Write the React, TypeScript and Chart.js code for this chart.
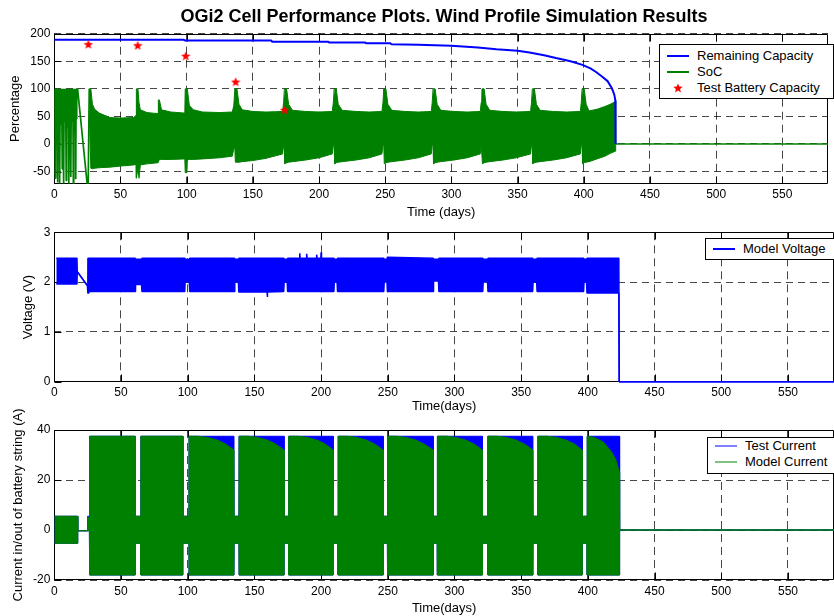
import React, { useEffect, useRef } from "react";
import { Chart, registerables } from "chart.js";

Chart.register(...registerables);

const FONT = "'Liberation Sans', Arial, Helvetica, sans-serif";
Chart.defaults.font.family = FONT;

// ---------------- data ----------------
const xTicks = [0, 50, 100, 150, 200, 250, 300, 350, 400, 450, 500, 550];
const X_MAX = 584.5;

// Panel 1
const yTicks1 = [-50, 0, 50, 100, 150, 200];
const capTime = [0, 98, 98.5, 164, 164.5, 207, 207.5, 235, 235.5, 254, 254.5, 275, 300, 320, 334, 350, 359, 370, 379, 390, 399, 405, 409, 414, 418, 421, 423, 423.8, 424];
const capValue = [189, 189, 187.5, 187.5, 185.5, 185.5, 184, 184, 182.5, 182.5, 181, 180, 178, 175, 172, 169, 166, 161, 156, 150, 143.5, 137, 131, 122, 114, 102, 90, 80, 0];

const starTime = [25.7, 63, 99.3, 137, 174];
const starValue = [181, 179, 160, 113, 62];

const socLineTime = [0.3, 0.6, 0.9, 1.2, 1.5, 1.8, 2.1, 2.4, 2.7, 3.0, 3.3, 3.6, 3.9, 4.2, 4.5, 4.8, 5.1, 5.4, 5.7, 6.0, 6.3, 6.6, 6.9, 7.2, 7.5, 7.8, 8.1, 8.4, 8.7, 9.0, 9.3, 9.6, 9.9, 10.2, 10.5, 10.8, 11.1, 11.4, 11.7, 12.0, 12.3, 12.6, 12.9, 13.2, 13.5, 13.8, 14.1, 14.4, 14.7, 15.0, 15.3, 15.6, 15.9, 16.2, 16.5, 16.8, 17.1, 17.6, 24.8, 25.6, 26.4];
const socLineValue = [100, -62, 100, 45, 100, 30, 100, -70, 100, 50, 100, 20, 100, -72, 100, 55, 100, 35, 100, -45, 100, 50, 100, -72, 100, 40, 100, 55, 100, -66, 100, 30, 100, 50, 100, -72, 100, 45, 100, 25, 100, -60, 100, 50, 100, 40, 100, -72, 100, 55, 100, 20, 100, -64, 100, 45, 100, 100, -72, -72, 100];

const socTime = [26.4, 27.6, 28.8, 30.5, 34, 42, 50, 60, 61.8, 62.0, 63.2, 64.0, 65.0, 70, 78.4, 78.6, 79.4, 81, 88, 98.6, 98.9, 100.2, 100.5, 102, 105, 112, 125, 134.5, 135.6, 136.4, 136.8, 138, 139.5, 142, 150, 160, 172.5, 173.2, 173.8, 174.2, 175.5, 177, 180, 190, 200, 210, 210.8, 211.4, 211.8, 213, 214.5, 217.5, 228, 238, 247.5, 248.3, 248.9, 249.3, 250.5, 252, 255, 265, 275, 284.8, 285.5, 286.1, 286.5, 287.7, 289.2, 292, 302, 312, 321.8, 322.5, 323.1, 323.5, 324.7, 326.2, 329, 339, 349, 359.8, 360.5, 361.1, 361.5, 362.7, 364.2, 367, 377, 387, 397.4, 398.1, 398.7, 399.1, 400.3, 401.8, 404, 410, 416, 420, 423.9, 424.1, 584.5];
const socUpper = [100, 100, 72, 63, 56, 48, 47, 48, 52, 100, 100, 75, 62, 57, 55, 80, 80, 62, 58, 56, 100, 100, 100, 70, 62, 58, 57, 58, 70, 100, 100, 100, 72, 62, 59, 58, 59, 75, 100, 100, 100, 72, 61, 59, 58, 59, 75, 100, 100, 100, 72, 61, 59, 58, 59, 75, 100, 100, 100, 72, 61, 59, 58, 59, 75, 100, 100, 100, 72, 61, 59, 58, 59, 75, 100, 100, 100, 72, 61, 59, 58, 59, 75, 100, 100, 100, 72, 61, 59, 58, 59, 75, 100, 100, 100, 72, 60, 63, 68, 72, 77, 0, 0];
const socLower = [60, -44, -45, -44, -43, -42, -40, -38, -37, -62, -45, -62, -38, -36, -34, -34, -28, -28, -28, -27, -52, -52, -29, -28, -28, -27, -25, -22, -8, -8, -33, -33, -33, -32, -30, -26, -18, -3, -3, -36, -34, -33, -32, -29, -25, -18, -2, -2, -36, -34, -33, -32, -29, -25, -18, -2, -2, -36, -34, -33, -32, -29, -25, -18, -2, -2, -36, -34, -33, -32, -29, -25, -18, -2, -2, -36, -34, -33, -32, -29, -25, -18, -2, -2, -36, -34, -33, -32, -29, -25, -18, -2, -2, -36, -34, -33, -32, -27, -22, -17, -13, 0, 0];

// Panel 2
const yTicks2 = [0, 1, 2, 3];
const voltTime = [1.5, 17.0, 17.2, 24.8, 25.2, 26.5, 60.6, 60.9, 65.4, 65.7, 97.8, 98.1, 101.2, 101.5, 135.0, 135.3, 138.0, 138.3, 159.5, 159.7, 159.9, 172.0, 172.3, 174.6, 174.9, 183.8, 184.0, 184.3, 189.0, 189.2, 189.5, 196.5, 196.7, 197.0, 199.8, 200.0, 200.3, 209.6, 209.9, 212.0, 212.3, 247.0, 247.3, 249.4, 249.7, 284.0, 284.3, 288.0, 288.3, 321.2, 321.5, 324.8, 325.1, 358.6, 358.9, 361.6, 361.9, 396.8, 397.1, 399.0, 399.3, 423.2, 423.5, 584.5];
const voltUpper = [2.48, 2.48, 2.21, 1.93, 2.48, 2.48, 2.48, 2.46, 2.46, 2.48, 2.48, 2.46, 2.46, 2.48, 2.48, 2.46, 2.46, 2.48, 2.48, 2.48, 2.48, 2.48, 2.46, 2.46, 2.48, 2.48, 2.58, 2.48, 2.48, 2.57, 2.48, 2.48, 2.55, 2.48, 2.48, 2.6, 2.48, 2.48, 2.46, 2.46, 2.48, 2.48, 2.46, 2.46, 2.5, 2.48, 2.46, 2.46, 2.48, 2.48, 2.46, 2.46, 2.48, 2.48, 2.46, 2.46, 2.48, 2.48, 2.46, 2.46, 2.48, 2.48, 0, 0];
const voltLower = [1.96, 1.96, 2.21, 1.93, 1.77, 1.81, 1.81, 1.95, 1.95, 1.81, 1.81, 2.0, 2.0, 1.81, 1.81, 2.0, 2.0, 1.8, 1.8, 1.7, 1.8, 1.81, 2.0, 2.0, 1.81, 1.81, 1.81, 1.81, 1.81, 1.81, 1.81, 1.81, 1.81, 1.81, 1.81, 1.81, 1.81, 1.81, 2.0, 2.0, 1.81, 1.81, 2.0, 2.0, 1.81, 1.81, 2.02, 2.02, 1.81, 1.81, 2.0, 2.0, 1.81, 1.81, 2.0, 2.0, 1.81, 1.81, 2.0, 2.0, 1.78, 1.78, 0, 0];

// Panel 3
const yTicks3 = [-20, 0, 20, 40];
const testTime = [0, 17.5, 17.6, 24.6, 25.0, 26.3, 26.5, 60.6, 60.7, 64.8, 64.9, 96.3, 96.4, 100.9, 101.0, 134.7, 134.8, 138.4, 138.5, 172.2, 172.3, 175.6, 175.7, 209.0, 209.1, 212.7, 212.8, 246.5, 246.6, 249.7, 249.8, 284.0, 284.1, 287.1, 287.2, 320.9, 321.0, 324.9, 325.0, 358.8, 358.9, 362.4, 362.5, 395.7, 395.8, 399.4, 399.5, 423.7, 423.8, 584.5];
const testUpper = [5.5, 5.5, -0.3, -0.3, 5.5, 5.5, 37.5, 37.5, 5.5, 5.5, 37.5, 37.5, 5.5, 5.5, 37.5, 37.5, 5.5, 5.5, 37.5, 37.5, 5.5, 5.5, 37.5, 37.5, 5.5, 5.5, 37.5, 37.5, 5.5, 5.5, 37.5, 37.5, 5.5, 5.5, 37.5, 37.5, 5.5, 5.5, 37.5, 37.5, 5.5, 5.5, 37.5, 37.5, 5.5, 5.5, 37.5, 37.5, 0, 0];
const testLower = [-5.3, -5.3, -0.3, -0.3, -0.3, -0.3, -18, -18, -5.3, -5.3, -18, -18, -5.3, -5.3, -18, -18, -5.3, -5.3, -18, -18, -5.3, -5.3, -18, -18, -5.3, -5.3, -18, -18, -5.3, -5.3, -18, -18, -5.3, -5.3, -18, -18, -5.3, -5.3, -18, -18, -5.3, -5.3, -18, -18, -5.3, -5.3, -18, -18, 0, 0];

const modelTime = [0, 17.5, 17.6, 24.6, 25.0, 26.3, 26.5, 60.6, 60.7, 64.8, 64.9, 96.3, 96.4, 100.9,
  101.0, 108, 115, 122, 128, 134.7, 134.8, 138.4,
  138.5, 145.5, 152.5, 159.5, 165.5, 172.2, 172.3, 175.6,
  175.7, 182.7, 189.7, 196.7, 202.7, 209.0, 209.1, 212.7,
  212.8, 219.8, 226.8, 233.8, 239.8, 246.5, 246.6, 249.7,
  249.8, 256.8, 263.8, 270.8, 276.8, 284.0, 284.1, 287.1,
  287.2, 294.2, 301.2, 308.2, 314.2, 320.9, 321.0, 324.9,
  325.0, 332, 339, 346, 352, 358.8, 358.9, 362.4,
  362.5, 369.5, 376.5, 383.5, 389.5, 395.7, 395.8, 399.4,
  399.5, 405, 412, 418, 421, 423.7, 423.8, 584.5];
const modelUpper = [5.5, 5.5, -0.3, -0.3, 5.0, 5.0, 37.5, 37.5, 5.5, 5.5, 37.5, 37.5, 5.5, 5.5,
  37.5, 37.5, 37, 36, 34.5, 32, 5.5, 5.5,
  37.5, 37.5, 37, 36, 34.5, 32, 5.5, 5.5,
  37.5, 37.5, 37, 36, 34.5, 32, 5.5, 5.5,
  37.5, 37.5, 37, 36, 34.5, 32, 5.5, 5.5,
  37.5, 37.5, 37, 36, 34.5, 32, 5.5, 5.5,
  37.5, 37.5, 37, 36, 34.5, 32, 5.5, 5.5,
  37.5, 37.5, 37, 36, 34.5, 32, 5.5, 5.5,
  37.5, 37.5, 37, 36, 34.5, 32, 5.5, 5.5,
  37.5, 37, 35, 31, 28, 23, 0, 0];
const modelLower = [-5.3, -5.3, -0.3, -0.3, -0.3, -0.3, -18, -18, -5.3, -5.3, -18, -18, -5.3, -5.3,
  -18, -18, -18, -18, -18, -18, -5.3, -5.3,
  -18, -18, -18, -18, -18, -18, -5.3, -5.3,
  -18, -18, -18, -18, -18, -18, -5.3, -5.3,
  -18, -18, -18, -18, -18, -18, -5.3, -5.3,
  -18, -18, -18, -18, -18, -18, -5.3, -5.3,
  -18, -18, -18, -18, -18, -18, -5.3, -5.3,
  -18, -18, -18, -18, -18, -18, -5.3, -5.3,
  -18, -18, -18, -18, -18, -18, -5.3, -5.3,
  -18, -18, -18, -18, -18, -18, 0, 0];

// ---------------- helpers ----------------
const BLUE = "#0000ff";
const GREEN = "#008000";

function pts(t: number[], v: number[]) {
  return t.map((x, i) => ({ x, y: v[i] }));
}

function makeStar(size: number, color: string) {
  const c = document.createElement("canvas");
  c.width = size;
  c.height = size;
  const g = c.getContext("2d")!;
  g.fillStyle = color;
  g.beginPath();
  for (let i = 0; i < 10; i++) {
    const r = i % 2 === 0 ? size / 2 : size / 4.6;
    const a = -Math.PI / 2 + (i * Math.PI) / 5;
    g.lineTo(size / 2 + r * Math.cos(a), size / 2 + 0.5 + r * Math.sin(a));
  }
  g.closePath();
  g.fill();
  return c;
}

const framePlugin = {
  id: "frame",
  beforeDatasetsDraw(chart: any) {
    const { ctx, chartArea: a, scales } = chart;
    ctx.save();
    ctx.strokeStyle = "#000";
    ctx.lineWidth = 1;
    const l = Math.round(a.left) + 0.5;
    const t = Math.round(a.top) + 0.5;
    const r = Math.round(a.right) - 0.5;
    const b = Math.round(a.bottom) - 0.5;
    ctx.beginPath();
    ctx.moveTo(l, t);
    ctx.lineTo(r, t);
    ctx.lineTo(r, b);
    ctx.lineTo(l, b);
    ctx.closePath();
    const tl = 7;
    scales.x.ticks.forEach((tk: any) => {
      const px = Math.round(scales.x.getPixelForValue(tk.value)) + 0.5;
      ctx.moveTo(px, b);
      ctx.lineTo(px, b - tl);
      ctx.moveTo(px, t);
      ctx.lineTo(px, t + tl);
    });
    scales.y.ticks.forEach((tk: any) => {
      const py = Math.round(scales.y.getPixelForValue(tk.value)) + 0.5;
      ctx.moveTo(l, py);
      ctx.lineTo(l + tl, py);
    });
    ctx.stroke();
    ctx.restore();
  },
};

type PanelCfg = {
  top: number;
  bottom: number;
  xAxisH: number;
  yMin: number;
  yMax: number;
  yTicks: number[];
  yTitle: string;
  yTitlePad: number;
  xTitle: string;
};

function panelOptions(c: PanelCfg): any {
  const grid = { color: "rgba(0,0,0,0.72)", lineWidth: 1, drawTicks: false };
  return {
    responsive: false,
    animation: false,
    events: [],
    layout: { padding: { top: c.top, bottom: 616 - c.bottom - c.xAxisH, left: 0, right: 0 } },
    plugins: { legend: { display: false }, tooltip: { enabled: false }, title: { display: false } },
    elements: {
      point: { radius: 0 },
      line: { tension: 0, borderJoinStyle: "bevel" },
    },
    scales: {
      x: {
        type: "linear",
        min: 0,
        max: X_MAX,
        afterBuildTicks: (s: any) => {
          s.ticks = xTicks.map((v) => ({ value: v }));
        },
        afterFit: (s: any) => {
          s.height = c.xAxisH;
        },
        grid,
        border: { display: false, dash: [8, 5] },
        ticks: { padding: 4, color: "#000", font: { size: 12 }, maxRotation: 0, autoSkip: false },
        title: { display: true, text: c.xTitle, color: "#000", font: { size: 13 }, padding: 0 },
      },
      y: {
        type: "linear",
        min: c.yMin,
        max: c.yMax,
        afterBuildTicks: (s: any) => {
          s.ticks = c.yTicks.map((v) => ({ value: v }));
        },
        afterFit: (s: any) => {
          s.width = 54.3;
        },
        grid,
        border: { display: false, dash: [7, 5] },
        ticks: { padding: 4, color: "#000", font: { size: 12 }, autoSkip: false },
        title: { display: true, text: c.yTitle, color: "#000", font: { size: 13 }, padding: { top: c.yTitlePad, bottom: 0 } },
      },
    },
  };
}

type LegendItem = { label: string; color: string; kind: "line" | "star"; y: number };

function Legend(p: {
  left: number;
  top: number;
  width: number;
  height: number;
  lineX1: number;
  lineX2: number;
  textX: number;
  lineW: number;
  items: LegendItem[];
}) {
  const starPts: string[] = [];
  for (let i = 0; i < 10; i++) {
    const r = i % 2 === 0 ? 5 : 2.2;
    const a = -Math.PI / 2 + (i * Math.PI) / 5;
    starPts.push(`${(5 + r * Math.cos(a)).toFixed(2)},${(5.4 + r * Math.sin(a)).toFixed(2)}`);
  }
  return (
    <>
      <div
        style={{
          position: "absolute",
          left: p.left,
          top: p.top,
          width: p.width,
          height: p.height,
          border: "1px solid #000",
          background: "#fff",
          boxSizing: "border-box",
        }}
      />
      {p.items.map((it) => (
        <React.Fragment key={it.label}>
          {it.kind === "line" ? (
            <div
              style={{
                position: "absolute",
                left: p.lineX1,
                top: it.y - p.lineW / 2,
                width: p.lineX2 - p.lineX1,
                height: p.lineW,
                background: it.color,
              }}
            />
          ) : (
            <svg
              width={10}
              height={10}
              style={{ position: "absolute", left: (p.lineX1 + p.lineX2) / 2 - 5, top: it.y - 5 }}
            >
              <polygon points={starPts.join(" ")} fill={it.color} />
            </svg>
          )}
          <div
            style={{
              position: "absolute",
              left: p.textX,
              top: it.y - 9,
              height: 18,
              lineHeight: "18px",
              fontSize: 13,
              whiteSpace: "nowrap",
              color: "#000",
            }}
          >
            {it.label}
          </div>
        </React.Fragment>
      ))}
    </>
  );
}

export default function App() {
  const r1 = useRef<HTMLCanvasElement>(null);
  const r2 = useRef<HTMLCanvasElement>(null);
  const r3 = useRef<HTMLCanvasElement>(null);

  useEffect(() => {
    const star = makeStar(10, "#ff0000");

    const c1 = new Chart(r1.current!, {
      type: "line",
      data: {
        datasets: [
          { label: "Remaining Capacity", data: pts(capTime, capValue), borderColor: BLUE, borderWidth: 2, pointRadius: 0, fill: false, order: -1 },
          { label: "Test Battery Capacity", data: pts(starTime, starValue), showLine: false, pointStyle: star as any, pointRadius: 5, borderColor: "#f00", backgroundColor: "#f00", order: -2 },
          { label: "SoC", data: pts(socLineTime, socLineValue), borderColor: GREEN, borderWidth: 1.7, pointRadius: 0, fill: false },
          { label: "SoC upper", data: pts(socTime, socUpper), borderColor: GREEN, borderWidth: 1, pointRadius: 0, fill: false },
          { label: "SoC lower", data: pts(socTime, socLower), borderColor: GREEN, borderWidth: 1, pointRadius: 0, fill: 3, backgroundColor: GREEN },
        ],
      } as any,
      options: panelOptions({
        top: 33.7,
        bottom: 183.7,
        xAxisH: 36.1,
        yMin: -72,
        yMax: 200,
        yTicks: yTicks1,
        yTitle: "Percentage",
        yTitlePad: 8,
        xTitle: "Time (days)",
      }),
      plugins: [framePlugin],
    });

    const c2 = new Chart(r2.current!, {
      type: "line",
      data: {
        datasets: [
          { label: "Model Voltage", data: pts(voltTime, voltUpper), borderColor: BLUE, borderWidth: 1.5, pointRadius: 0, fill: false, clip: 3 },
          { label: "Model Voltage lower", data: pts(voltTime, voltLower), borderColor: BLUE, borderWidth: 1.5, pointRadius: 0, fill: 0, backgroundColor: BLUE, clip: 3 },
        ],
      } as any,
      options: panelOptions({
        top: 232.3,
        bottom: 381.7,
        xAxisH: 32.1,
        yMin: 0,
        yMax: 3,
        yTicks: yTicks2,
        yTitle: "Voltage (V)",
        yTitlePad: 21,
        xTitle: "Time(days)",
      }),
      plugins: [framePlugin],
    });

    const c3 = new Chart(r3.current!, {
      type: "line",
      data: {
        datasets: [
          { label: "Model Current", data: pts(modelTime, modelUpper), borderColor: GREEN, borderWidth: 1, pointRadius: 0, fill: false, order: 0 },
          { label: "Model Current lower", data: pts(modelTime, modelLower), borderColor: GREEN, borderWidth: 1, pointRadius: 0, fill: 0, backgroundColor: GREEN, order: 0 },
          { label: "Test Current", data: pts(testTime, testUpper), borderColor: BLUE, borderWidth: 1, pointRadius: 0, fill: false, order: 1 },
          { label: "Test Current lower", data: pts(testTime, testLower), borderColor: BLUE, borderWidth: 1, pointRadius: 0, fill: 2, backgroundColor: BLUE, order: 1 },
        ],
      } as any,
      options: panelOptions({
        top: 430,
        bottom: 580,
        xAxisH: 35.8,
        yMin: -20,
        yMax: 40,
        yTicks: yTicks3,
        yTitle: "Current in/out of battery string (A)",
        yTitlePad: 11,
        xTitle: "Time(days)",
      }),
      plugins: [framePlugin],
    });

    return () => {
      c1.destroy();
      c2.destroy();
      c3.destroy();
    };
  }, []);

  const cv: React.CSSProperties = { position: "absolute", left: 0, top: 0, width: 834, height: 616 };

  return (
    <div
      style={{
        position: "fixed",
        left: 0,
        top: 0,
        width: 834,
        height: 616,
        background: "#fff",
        overflow: "hidden",
        fontFamily: FONT,
      }}
    >
      <canvas ref={r1} width={834} height={616} style={cv} />
      <canvas ref={r2} width={834} height={616} style={cv} />
      <canvas ref={r3} width={834} height={616} style={cv} />
      <div
        style={{
          position: "absolute",
          left: 54,
          width: 780,
          top: 5,
          height: 22,
          lineHeight: "22px",
          textAlign: "center",
          fontWeight: "bold",
          fontSize: 18,
          color: "#000",
          whiteSpace: "nowrap",
        }}
      >
        OGi2 Cell Performance Plots. Wind Profile Simulation Results
      </div>
      <Legend
        left={659}
        top={44}
        width={175}
        height={55}
        lineX1={667}
        lineX2={689}
        textX={697}
        lineW={2}
        items={[
          { label: "Remaining Capacity", color: BLUE, kind: "line", y: 56.3 },
          { label: "SoC", color: GREEN, kind: "line", y: 72 },
          { label: "Test Battery Capacity", color: "#ff0000", kind: "star", y: 88.3 },
        ]}
      />
      <Legend
        left={705}
        top={238}
        width={132}
        height={22}
        lineX1={713}
        lineX2={735}
        textX={743}
        lineW={2}
        items={[{ label: "Model Voltage", color: BLUE, kind: "line", y: 248.5 }]}
      />
      <Legend
        left={707}
        top={437}
        width={130}
        height={37}
        lineX1={715}
        lineX2={737}
        textX={745}
        lineW={2}
        items={[
          { label: "Test Current", color: "#8080ff", kind: "line", y: 446 },
          { label: "Model Current", color: "#80c080", kind: "line", y: 462.3 },
        ]}
      />
    </div>
  );
}
